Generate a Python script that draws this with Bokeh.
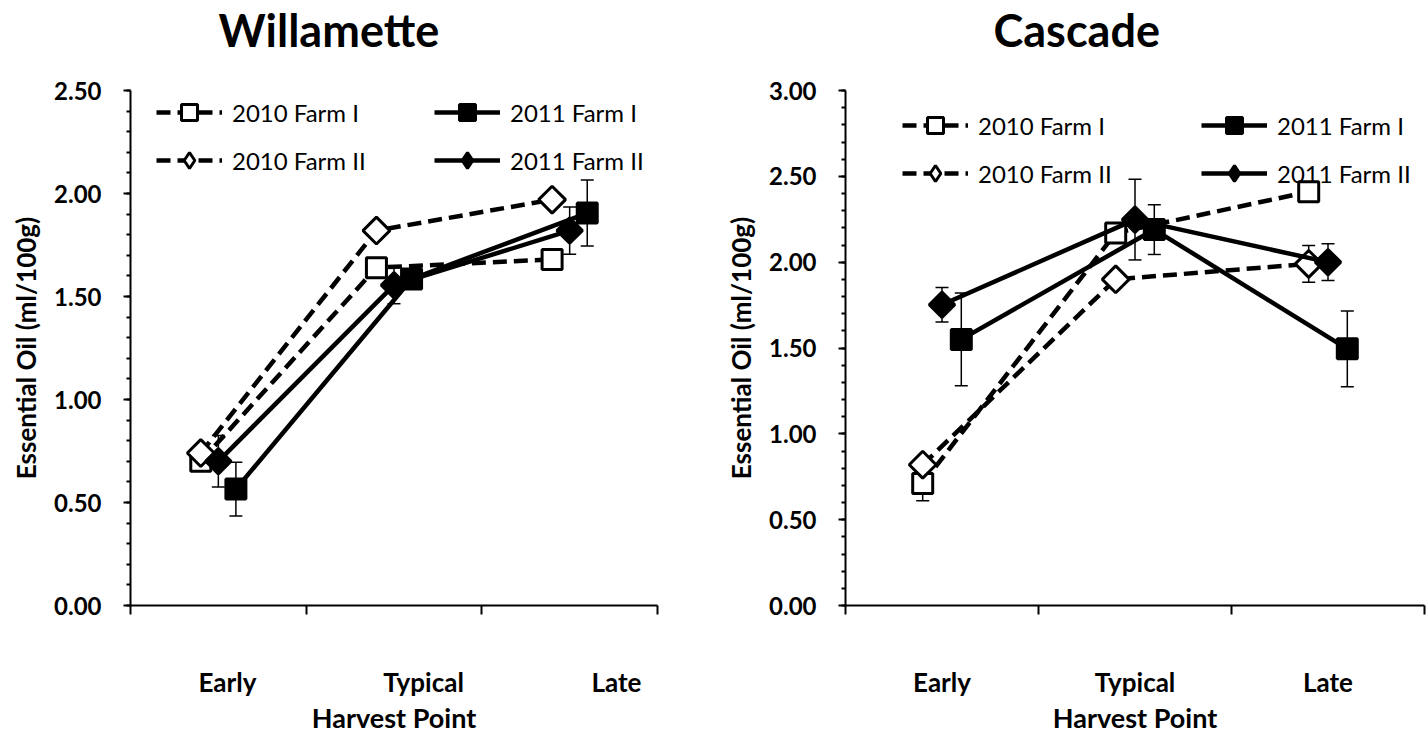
import numpy as np
from bokeh.plotting import figure
from bokeh.models import (Range1d, SingleIntervalTicker, FixedTicker, NumeralTickFormatter,
                          Legend, LegendItem, ColumnDataSource, Whisker, TeeHead,
                          CustomJSTickFormatter, Title)
from bokeh.layouts import row
from bokeh.embed import file_html
from bokeh.resources import INLINE

# ---------------- data ----------------
stages = ["Early", "Typical", "Late"]
series_names = ["2010 Farm I", "2011 Farm I", "2010 Farm II", "2011 Farm II"]

# Willamette
will_2010_f1 = [0.70, 1.64, 1.68]
will_2010_f1_err = [0.0, 0.0, 0.0]
will_2011_f1 = [0.565, 1.585, 1.905]
will_2011_f1_err = [0.13, 0.03, 0.16]
will_2010_f2 = [0.74, 1.82, 1.97]
will_2010_f2_err = [0.0, 0.0, 0.0]
will_2011_f2 = [0.70, 1.555, 1.82]
will_2011_f2_err = [0.125, 0.09, 0.115]

# Cascade
casc_2010_f1 = [0.71, 2.17, 2.41]
casc_2010_f1_err = [0.10, 0.0, 0.0]
casc_2011_f1 = [1.55, 2.19, 1.495]
casc_2011_f1_err = [0.27, 0.145, 0.22]
casc_2010_f2 = [0.82, 1.90, 1.99]
casc_2010_f2_err = [0.0, 0.0, 0.107]
casc_2011_f2 = [1.752, 2.248, 2.00]
casc_2011_f2_err = [0.10, 0.235, 0.107]

FONT = "Lato"
FRAME_H = 515

styles = {
    "2010 Farm I":  dict(dash="14 7", diamond=False, fill="white", size=20, offset=0.4),
    "2011 Farm I":  dict(dash="solid", diamond=False, fill="black", size=20, offset=0.6),
    "2010 Farm II": dict(dash="14 7", diamond=True, fill="white", size=19, offset=0.4),
    "2011 Farm II": dict(dash="solid", diamond=True, fill="black", size=18, offset=0.5),
}


def make_panel(title, ymax, values, errors, label_ticks, frame_w, border_left, border_right,
               title_offset, legend_xy, legend_label_width):
    p = figure(frame_width=frame_w, frame_height=FRAME_H,
               x_range=Range1d(0, 3), y_range=Range1d(0, ymax),
               output_backend="svg", toolbar_location=None,
               min_border_left=border_left, min_border_right=border_right,
               min_border_top=90, min_border_bottom=126)
    p.xgrid.visible = False
    p.ygrid.visible = False
    p.outline_line_color = None
    p.background_fill_color = "white"
    p.border_fill_color = "white"

    p.title.text = title
    p.title.text_font = FONT
    p.title.text_font_size = "45px"
    p.title.text_font_style = "bold"
    p.title.text_color = "black"
    p.title.align = "left"
    p.title.offset = title_offset
    p.title.vertical_align = "top"
    p.title.standoff = 0
    # blank spacer between the title and the plot area
    p.add_layout(Title(text=" ", text_font_size="2px", standoff=28), "above")

    base = np.arange(len(stages), dtype=float)
    items = []
    for name in series_names:
        st = styles[name]
        y = np.array(values[name], dtype=float)
        e = np.array(errors[name], dtype=float)
        src = ColumnDataSource(dict(x=base + st["offset"], y=y, upper=y + e, lower=y - e))
        w = Whisker(source=src, base="x", upper="upper", lower="lower", dimension="height",
                    line_color="black", line_width=1.5, level="underlay",
                    upper_head=TeeHead(size=13, line_width=1.5, line_color="black"),
                    lower_head=TeeHead(size=13, line_width=1.5, line_color="black"))
        p.add_layout(w)
        lr = p.line("x", "y", source=src, line_color="black", line_width=4.5,
                    line_dash=st["dash"])
        if st["diamond"]:
            # small diamond beneath the rotated square: gives the legend a diamond glyph
            lg = p.scatter("x", "y", source=src, marker="diamond", size=10,
                           fill_color=st["fill"], line_color="black", line_width=3)
            p.scatter("x", "y", source=src, marker="square", angle=np.pi / 4,
                      size=st["size"], fill_color=st["fill"], line_color="black",
                      line_width=3)
        else:
            lg = p.scatter("x", "y", source=src, marker="square",
                           size=st["size"], fill_color=st["fill"], line_color="black",
                           line_width=3)
        items.append(LegendItem(label=name, renderers=[lr, lg]))

    legend = Legend(items=items, location=legend_xy, orientation="horizontal", ncols=2,
                    glyph_width=66, glyph_height=40, label_standoff=10,
                    label_width=legend_label_width, spacing=8, padding=0, margin=0,
                    border_line_color=None, background_fill_alpha=0,
                    label_text_font=FONT, label_text_font_size="24px",
                    label_text_color="black")
    p.add_layout(legend)

    # y axis
    ya = p.yaxis[0]
    ya.ticker = SingleIntervalTicker(interval=0.5, num_minor_ticks=5)
    ya.formatter = NumeralTickFormatter(format="0.00")
    ya.axis_line_width = 2
    ya.axis_line_color = "black"
    ya.major_tick_line_width = 2
    ya.minor_tick_line_width = 2
    ya.major_tick_out = 7
    ya.major_tick_in = 0
    ya.minor_tick_out = 4
    ya.minor_tick_in = 0
    ya.major_label_standoff = 22
    ya.major_label_text_font = FONT
    ya.major_label_text_font_size = "24px"
    ya.major_label_text_font_style = "bold"
    ya.major_label_text_color = "black"
    ya.axis_label = "Essential Oil (ml/100g)"
    ya.axis_label_text_font = FONT
    ya.axis_label_text_font_size = "26px"
    ya.axis_label_text_font_style = "bold"
    ya.axis_label_text_color = "black"
    ya.axis_label_standoff = 9

    # x axis: category boundaries as minor ticks, labels at given positions
    xa = p.xaxis[0]
    xa.ticker = FixedTicker(ticks=label_ticks, minor_ticks=list(range(len(stages) + 1)))
    xa.formatter = CustomJSTickFormatter(args=dict(labels=stages), code="return labels[index];")
    xa.axis_line_width = 2
    xa.axis_line_color = "black"
    xa.major_tick_out = 0
    xa.major_tick_in = 0
    xa.minor_tick_out = 9
    xa.minor_tick_in = 0
    xa.minor_tick_line_width = 2
    xa.major_label_standoff = 51
    xa.major_label_text_font = FONT
    xa.major_label_text_font_size = "26px"
    xa.major_label_text_font_style = "bold"
    xa.major_label_text_color = "black"
    xa.axis_label = "Harvest Point"
    xa.axis_label_text_font = FONT
    xa.axis_label_text_font_size = "27px"
    xa.axis_label_text_font_style = "bold"
    xa.axis_label_text_color = "black"
    xa.axis_label_standoff = 0
    return p


will_vals = {"2010 Farm I": will_2010_f1, "2011 Farm I": will_2011_f1,
             "2010 Farm II": will_2010_f2, "2011 Farm II": will_2011_f2}
will_errs = {"2010 Farm I": will_2010_f1_err, "2011 Farm I": will_2011_f1_err,
             "2010 Farm II": will_2010_f2_err, "2011 Farm II": will_2011_f2_err}
casc_vals = {"2010 Farm I": casc_2010_f1, "2011 Farm I": casc_2011_f1,
             "2010 Farm II": casc_2010_f2, "2011 Farm II": casc_2011_f2}
casc_errs = {"2010 Farm I": casc_2010_f1_err, "2011 Farm I": casc_2011_f1_err,
             "2010 Farm II": casc_2010_f2_err, "2011 Farm II": casc_2011_f2_err}

p1 = make_panel("Willamette", 2.5, will_vals, will_errs, [0.552, 1.668, 2.766],
                frame_w=527, border_left=130, border_right=46, title_offset=88,
                legend_xy=(26, 425), legend_label_width=194)
p2 = make_panel("Cascade", 3.0, casc_vals, casc_errs, [0.5, 1.5, 2.5],
                frame_w=579, border_left=142, border_right=2, title_offset=148,
                legend_xy=(57, 412), legend_label_width=215)

layout = row(p1, p2)
open("out.html", "w").write(file_html(layout, INLINE))
